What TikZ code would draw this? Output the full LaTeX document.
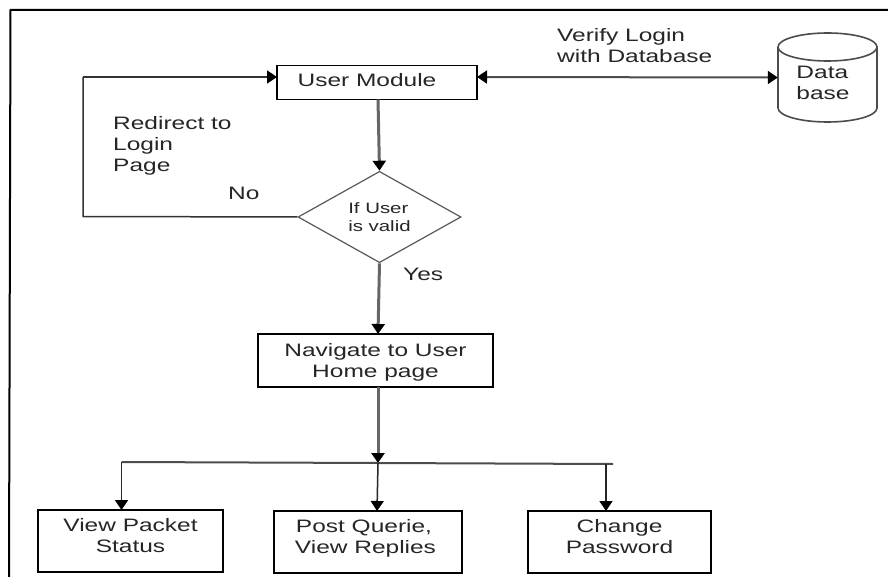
\documentclass[tikz,border=0pt]{standalone}
\usepackage{fontspec}
\setmainfont[FakeStretch=1.36]{Liberation Sans}
\usetikzlibrary{arrows.meta,shapes.geometric}
\tikzset{
  box/.style={draw=black,line width=1.2pt,inner sep=0pt,align=center,font=\fontsize{18}{21}\selectfont,text=black!85},
  lbl/.style={inner sep=0pt,align=left,anchor=base west,font=\fontsize{18}{21}\selectfont,text=black!85},
  blacktip/.tip={Triangle[length=10pt,width=13pt,color=black,fill=black]},
  thick gray/.style={draw=black!60,line width=3pt,-blacktip},
  thin link/.style={draw=black!80,line width=1.5pt},
  tipped/.style={-blacktip},
}
\begin{document}
\begin{tikzpicture}[x=1pt,y=-1pt]
\useasboundingbox (0,0) rectangle (888,577);
\fill[white] (0,0) rectangle (888,577);
\draw[line width=2pt,black] (9,577) -- (10.5,10) -- (888,10);
% boxes
\node[box,minimum width=200pt,minimum height=34pt] (um) at (377,82.5) {\kern-20pt User Module\rule[-6pt]{0pt}{0pt}};
\node[box,minimum width=235pt,minimum height=53pt] (nav) at (375.5,360.5) {\rule{0pt}{17pt}Navigate to User\\Home page};
\node[box,minimum width=185pt,minimum height=62pt] (va) at (130.5,541) {View Packet\\Status\rule[-12pt]{0pt}{0pt}};
\node[box,minimum width=188pt,minimum height=62pt] (vb) at (368,542) {\kern-8pt Post Querie,\\\kern-5pt View Replies\rule[-12pt]{0pt}{0pt}};
\node[box,minimum width=183pt,minimum height=62pt] (vc) at (619.5,542) {Change\\Password\rule[-12pt]{0pt}{0pt}};
\node[draw=black!65,line width=1.2pt,diamond,minimum width=163pt,minimum height=84pt,inner sep=0pt,align=left,font=\fontsize{15}{18}\selectfont,text=black!85] (dia) at (379.5,217) {If User\\is valid};
% database
\node[minimum width=99pt,minimum height=89pt,inner sep=0pt,align=left,font=\fontsize{18}{21}\selectfont,text=black!85] (db) at (827.5,77.5) {\rule{0pt}{24pt}Data\\base\kern9pt};
\draw[draw=black!70,line width=1.6pt] (778,47) arc[start angle=180,end angle=-180,x radius=49.5pt,y radius=14pt];
\draw[draw=black!70,line width=1.6pt] (778,47) -- (778,108) arc[start angle=180,end angle=360,x radius=49.5pt,y radius=14pt] -- (877,47);
% labels
\node[lbl] (redir) at (113,172) {Redirect to\\Login\\Page};
\node[lbl] (no) at (228,200) {No};
\node[lbl] (yes) at (403,280) {Yes};
\node[lbl] (verify) at (557,63) {Verify Login\\with Database};
% coordinates
\coordinate (umW) at (277,77);
\coordinate (umE) at (477,77);
\coordinate (umS) at (378,99.5);
\coordinate (loopT) at (83,77);
\coordinate (loopB) at (83,216.5);
\coordinate (navT) at (378,334);
\coordinate (navS) at (378,387);
\coordinate (busL) at (121.5,462);
\coordinate (busM) at (378,463);
\coordinate (busR) at (613,464);
\coordinate (busC) at (606,464);
\coordinate (vaT) at (121.5,510);
\coordinate (vbT) at (377,511);
\coordinate (vcT) at (606,511);
% connectors
\draw[thick gray] (umS) -- (dia.north);
\draw[thick gray] (dia.south) -- (navT);
\draw[thick gray] (navS) -- (busM);
\draw[thin link] (dia.west) -- (loopB) -- (loopT);
\draw[thin link,tipped] (loopT) -- (umW);
\draw[draw=black!70,line width=2pt,blacktip-blacktip] (umE) -- (db.west);
\draw[draw=black!70,line width=2pt] (busL) -- (busM) -- (busR);
\draw[draw=black!85,line width=1.5pt,tipped] (busL) -- (vaT);
\draw[draw=black!85,line width=1.5pt,tipped] (busM) -- (vbT);
\draw[draw=black!85,line width=1.5pt,tipped] (busC) -- (vcT);
\end{tikzpicture}
\end{document}
